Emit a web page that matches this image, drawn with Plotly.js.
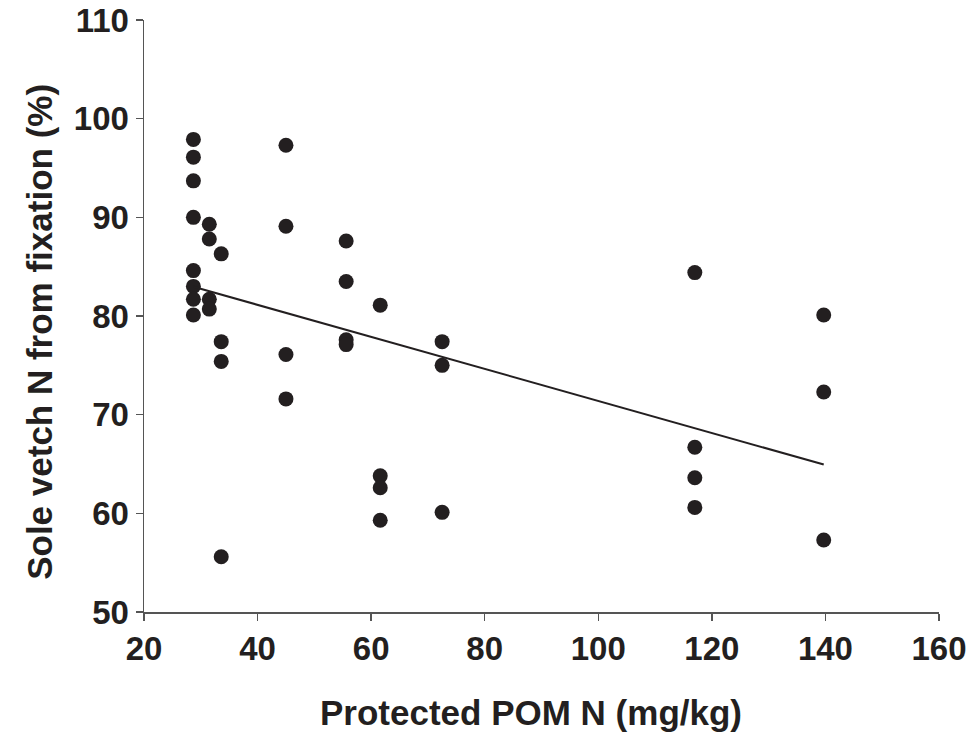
<!DOCTYPE html>
<html>
<head>
<meta charset="utf-8">
<script src="https://cdn.plot.ly/plotly-3.0.1.min.js"></script>
<style>html,body{margin:0;padding:0;background:#fff;}#chart{width:972px;height:736px;}</style>
</head>
<body>
<div id="chart"></div>
<script>
// Protected POM N (mg/kg)
const pomN = [
  28.7, 28.7, 28.7, 28.7, 28.7, 28.7, 28.7, 28.7,
  31.5, 31.5, 31.5, 31.5,
  33.6, 33.6, 33.6, 33.6,
  45.0, 45.0, 45.0, 45.0,
  55.6, 55.6, 55.6, 55.6,
  61.6, 61.6, 61.6, 61.6,
  72.5, 72.5, 72.5,
  117.0, 117.0, 117.0, 117.0,
  139.7, 139.7, 139.7
];
// Sole vetch N from fixation (%)
const fixPct = [
  97.9, 96.1, 93.7, 90.0, 84.6, 83.0, 81.7, 80.1,
  89.3, 87.8, 81.7, 80.7,
  86.3, 77.4, 75.4, 55.6,
  97.3, 89.1, 76.1, 71.6,
  87.6, 83.5, 77.6, 77.1,
  81.1, 63.8, 62.6, 59.3,
  77.4, 75.0, 60.1,
  84.4, 66.7, 63.6, 60.6,
  80.1, 72.3, 57.3
];
const xTicks = [20, 40, 60, 80, 100, 120, 140, 160];
const yTicks = [50, 60, 70, 80, 90, 100, 110];
const xTitle = 'Protected POM N (mg/kg)';
const yTitle = 'Sole vetch N from fixation (%)';

// least-squares fit line
const n = pomN.length;
const mx = pomN.reduce((a, b) => a + b, 0) / n;
const my = fixPct.reduce((a, b) => a + b, 0) / n;
let sxy = 0, sxx = 0;
for (let i = 0; i < n; i++) { sxy += (pomN[i] - mx) * (fixPct[i] - my); sxx += (pomN[i] - mx) ** 2; }
const slope = sxy / sxx, icpt = my - slope * mx;
const xmin = Math.min(...pomN), xmax = Math.max(...pomN);
const fitX = [xmin, xmax];
const fitY = fitX.map(x => icpt + slope * x);

const font = {family: '"Liberation Sans", Arial, sans-serif', color: '#231f20'};

const data = [
  {x: pomN, y: fixPct, type: 'scatter', mode: 'markers',
   marker: {size: 15, color: '#231f20'}, hoverinfo: 'x+y'},
  {x: fitX, y: fitY, type: 'scatter', mode: 'lines',
   line: {color: '#231f20', width: 2}}
];

const axisCommon = {
  showgrid: false, zeroline: false, showline: true,
  linecolor: '#555', linewidth: 1.5,
  ticks: 'outside', ticklen: 7, tickwidth: 1.5, tickcolor: '#555',
  tickfont: Object.assign({}, font, {size: 33, weight: 'bold'})
};

const titleFont = Object.assign({}, font, {size: 35});

const layout = {
  width: 972, height: 736,
  margin: {l: 144, r: 33, t: 20, b: 124},
  paper_bgcolor: '#fff', plot_bgcolor: '#fff',
  showlegend: false,
  font: font,
  xaxis: Object.assign({}, axisCommon, {
    range: [20, 160], tickvals: xTicks, ticktext: xTicks.map(String)
  }),
  yaxis: Object.assign({}, axisCommon, {
    range: [50, 110], tickvals: yTicks, ticktext: yTicks.map(String)
  }),
  annotations: [
    {text: '<b>' + xTitle + '</b>', xref: 'paper', yref: 'paper',
     x: 0.487, y: -0.169, xanchor: 'center', yanchor: 'middle',
     showarrow: false, font: titleFont},
    {text: '<b>' + yTitle + '</b>', xref: 'paper', yref: 'paper',
     x: -0.131, y: 0.473, xanchor: 'center', yanchor: 'middle', textangle: -90,
     showarrow: false, font: titleFont}
  ]
};

Plotly.newPlot('chart', data, layout, {displayModeBar: false, staticPlot: true});
</script>
</body>
</html>
